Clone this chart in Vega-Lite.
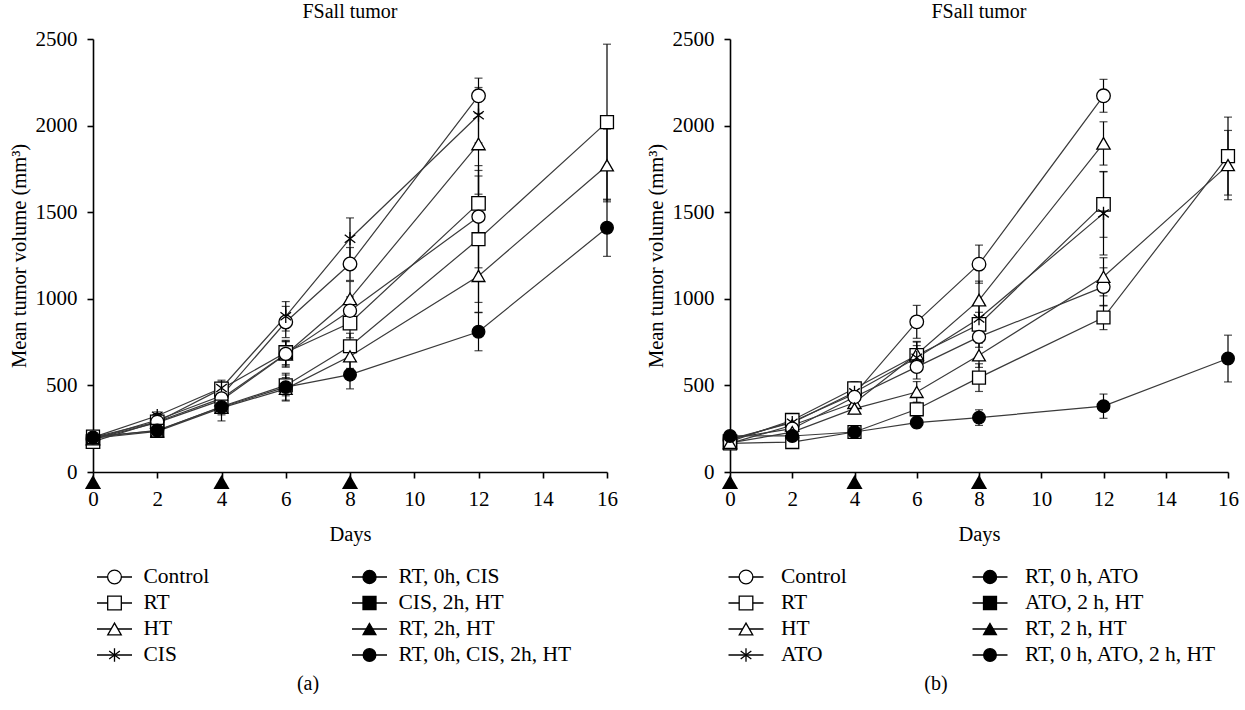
{
  "$schema": "https://vega.github.io/schema/vega-lite/v6.json",
  "padding": {"left": 9, "top": 2, "right": 0, "bottom": 0},
  "config": {
    "font": "Liberation Serif",
    "view": {"stroke": null},
    "axis": {"grid": false, "domainColor": "black", "domainWidth": 1.6, "tickColor": "black", "tickWidth": 1.6, "tickSize": 6, "labelFont": "Liberation Serif", "labelFontSize": 21, "labelColor": "black", "titleFont": "Liberation Serif", "titleFontSize": 20.5, "titleFontWeight": "normal", "titleColor": "black", "labelFlush": false},
    "title": {"font": "Liberation Serif", "fontSize": 20, "fontWeight": "normal", "color": "black"}
  },
  "datasets": {
    "a": [
      {"group": "Control", "day": 0, "vol": 190, "err": 18}, {"group": "Control", "day": 2, "vol": 300, "err": 22}, {"group": "Control", "day": 4, "vol": 440, "err": 45}, {"group": "Control", "day": 6, "vol": 866, "err": 90}, {"group": "Control", "day": 8, "vol": 1201, "err": 95}, {"group": "Control", "day": 12, "vol": 2172, "err": 102},
      {"group": "RT", "day": 0, "vol": 175, "err": 18}, {"group": "RT", "day": 2, "vol": 290, "err": 22}, {"group": "RT", "day": 4, "vol": 480, "err": 40}, {"group": "RT", "day": 6, "vol": 690, "err": 70}, {"group": "RT", "day": 8, "vol": 860, "err": 85}, {"group": "RT", "day": 12, "vol": 1551, "err": 190},
      {"group": "HT", "day": 0, "vol": 190, "err": 18}, {"group": "HT", "day": 2, "vol": 285, "err": 22}, {"group": "HT", "day": 4, "vol": 415, "err": 40}, {"group": "HT", "day": 6, "vol": 680, "err": 75}, {"group": "HT", "day": 8, "vol": 1000, "err": 100}, {"group": "HT", "day": 12, "vol": 1894, "err": 290},
      {"group": "CIS", "day": 0, "vol": 200, "err": 18}, {"group": "CIS", "day": 2, "vol": 325, "err": 22}, {"group": "CIS", "day": 4, "vol": 485, "err": 45}, {"group": "CIS", "day": 6, "vol": 899, "err": 85}, {"group": "CIS", "day": 8, "vol": 1347, "err": 120}, {"group": "CIS", "day": 12, "vol": 2060, "err": 160},
      {"group": "RT, 0h, CIS", "day": 0, "vol": 200, "err": 18}, {"group": "RT, 0h, CIS", "day": 2, "vol": 290, "err": 22}, {"group": "RT, 0h, CIS", "day": 4, "vol": 425, "err": 40}, {"group": "RT, 0h, CIS", "day": 6, "vol": 682, "err": 70}, {"group": "RT, 0h, CIS", "day": 8, "vol": 931, "err": 80}, {"group": "RT, 0h, CIS", "day": 12, "vol": 1474, "err": 295},
      {"group": "CIS, 2h, HT", "day": 0, "vol": 205, "err": 18}, {"group": "CIS, 2h, HT", "day": 2, "vol": 238, "err": 20}, {"group": "CIS, 2h, HT", "day": 4, "vol": 378, "err": 40}, {"group": "CIS, 2h, HT", "day": 6, "vol": 500, "err": 60}, {"group": "CIS, 2h, HT", "day": 8, "vol": 726, "err": 75}, {"group": "CIS, 2h, HT", "day": 12, "vol": 1344, "err": 365}, {"group": "CIS, 2h, HT", "day": 16, "vol": 2020, "err": 450},
      {"group": "RT, 2h, HT", "day": 0, "vol": 195, "err": 18}, {"group": "RT, 2h, HT", "day": 2, "vol": 235, "err": 20}, {"group": "RT, 2h, HT", "day": 4, "vol": 370, "err": 40}, {"group": "RT, 2h, HT", "day": 6, "vol": 480, "err": 65}, {"group": "RT, 2h, HT", "day": 8, "vol": 668, "err": 70}, {"group": "RT, 2h, HT", "day": 12, "vol": 1132, "err": 210}, {"group": "RT, 2h, HT", "day": 16, "vol": 1770, "err": 210},
      {"group": "RT, 0h, CIS, 2h, HT", "day": 0, "vol": 200, "err": 18}, {"group": "RT, 0h, CIS, 2h, HT", "day": 2, "vol": 240, "err": 20}, {"group": "RT, 0h, CIS, 2h, HT", "day": 4, "vol": 375, "err": 80}, {"group": "RT, 0h, CIS, 2h, HT", "day": 6, "vol": 490, "err": 80}, {"group": "RT, 0h, CIS, 2h, HT", "day": 8, "vol": 562, "err": 82}, {"group": "RT, 0h, CIS, 2h, HT", "day": 12, "vol": 810, "err": 110}, {"group": "RT, 0h, CIS, 2h, HT", "day": 16, "vol": 1410, "err": 165}
    ],
    "b": [
      {"group": "Control", "day": 0, "vol": 185, "err": 18}, {"group": "Control", "day": 2, "vol": 290, "err": 22}, {"group": "Control", "day": 4, "vol": 450, "err": 45}, {"group": "Control", "day": 6, "vol": 867, "err": 95}, {"group": "Control", "day": 8, "vol": 1200, "err": 110}, {"group": "Control", "day": 12, "vol": 2172, "err": 95},
      {"group": "RT", "day": 0, "vol": 175, "err": 18}, {"group": "RT", "day": 2, "vol": 299, "err": 22}, {"group": "RT", "day": 4, "vol": 482, "err": 40}, {"group": "RT", "day": 6, "vol": 674, "err": 80}, {"group": "RT", "day": 8, "vol": 852, "err": 70}, {"group": "RT", "day": 12, "vol": 1545, "err": 190},
      {"group": "HT", "day": 0, "vol": 165, "err": 18}, {"group": "HT", "day": 2, "vol": 270, "err": 22}, {"group": "HT", "day": 4, "vol": 400, "err": 40}, {"group": "HT", "day": 6, "vol": 680, "err": 70}, {"group": "HT", "day": 8, "vol": 992, "err": 110}, {"group": "HT", "day": 12, "vol": 1897, "err": 125},
      {"group": "ATO", "day": 0, "vol": 190, "err": 18}, {"group": "ATO", "day": 2, "vol": 285, "err": 22}, {"group": "ATO", "day": 4, "vol": 460, "err": 40}, {"group": "ATO", "day": 6, "vol": 660, "err": 70}, {"group": "ATO", "day": 8, "vol": 886, "err": 80}, {"group": "ATO", "day": 12, "vol": 1493, "err": 240},
      {"group": "RT, 0 h, ATO", "day": 0, "vol": 195, "err": 18}, {"group": "RT, 0 h, ATO", "day": 2, "vol": 250, "err": 22}, {"group": "RT, 0 h, ATO", "day": 4, "vol": 433, "err": 40}, {"group": "RT, 0 h, ATO", "day": 6, "vol": 607, "err": 70}, {"group": "RT, 0 h, ATO", "day": 8, "vol": 780, "err": 60}, {"group": "RT, 0 h, ATO", "day": 12, "vol": 1069, "err": 110},
      {"group": "ATO, 2 h, HT", "day": 0, "vol": 165, "err": 15}, {"group": "ATO, 2 h, HT", "day": 2, "vol": 173, "err": 20}, {"group": "ATO, 2 h, HT", "day": 4, "vol": 231, "err": 20}, {"group": "ATO, 2 h, HT", "day": 6, "vol": 362, "err": 40}, {"group": "ATO, 2 h, HT", "day": 8, "vol": 545, "err": 80}, {"group": "ATO, 2 h, HT", "day": 12, "vol": 892, "err": 70}, {"group": "ATO, 2 h, HT", "day": 16, "vol": 1824, "err": 225},
      {"group": "RT, 2 h, HT", "day": 0, "vol": 168, "err": 15}, {"group": "RT, 2 h, HT", "day": 2, "vol": 230, "err": 20}, {"group": "RT, 2 h, HT", "day": 4, "vol": 366, "err": 30}, {"group": "RT, 2 h, HT", "day": 6, "vol": 462, "err": 60}, {"group": "RT, 2 h, HT", "day": 8, "vol": 674, "err": 70}, {"group": "RT, 2 h, HT", "day": 12, "vol": 1127, "err": 110}, {"group": "RT, 2 h, HT", "day": 16, "vol": 1772, "err": 200},
      {"group": "RT, 0 h, ATO, 2 h, HT", "day": 0, "vol": 208, "err": 20}, {"group": "RT, 0 h, ATO, 2 h, HT", "day": 2, "vol": 208, "err": 20}, {"group": "RT, 0 h, ATO, 2 h, HT", "day": 4, "vol": 231, "err": 15}, {"group": "RT, 0 h, ATO, 2 h, HT", "day": 6, "vol": 285, "err": 30}, {"group": "RT, 0 h, ATO, 2 h, HT", "day": 8, "vol": 314, "err": 45}, {"group": "RT, 0 h, ATO, 2 h, HT", "day": 12, "vol": 380, "err": 70}, {"group": "RT, 0 h, ATO, 2 h, HT", "day": 16, "vol": 655, "err": 135}
    ],
    "dose": [{"day": 0}, {"day": 4}, {"day": 8}],
    "legA": [
      {"label": "Control", "col": 0, "row": 0}, {"label": "RT", "col": 0, "row": 1}, {"label": "HT", "col": 0, "row": 2}, {"label": "CIS", "col": 0, "row": 3},
      {"label": "RT, 0h, CIS", "col": 1, "row": 0}, {"label": "CIS, 2h, HT", "col": 1, "row": 1}, {"label": "RT, 2h, HT", "col": 1, "row": 2}, {"label": "RT, 0h, CIS, 2h, HT", "col": 1, "row": 3}
    ],
    "legB": [
      {"label": "Control", "col": 0, "row": 0}, {"label": "RT", "col": 0, "row": 1}, {"label": "HT", "col": 0, "row": 2}, {"label": "ATO", "col": 0, "row": 3},
      {"label": "RT, 0 h, ATO", "col": 1, "row": 0}, {"label": "ATO, 2 h, HT", "col": 1, "row": 1}, {"label": "RT, 2 h, HT", "col": 1, "row": 2}, {"label": "RT, 0 h, ATO, 2 h, HT", "col": 1, "row": 3}
    ]
  },
  "hconcat": [
    {
      "vconcat": [
        {
          "title": {"text": "FSall tumor", "offset": 6},
          "width": 514, "height": 433,
          "layer": [
            {
              "data": {"name": "a"},
              "mark": {"type": "line", "color": "#3a3a3a", "strokeWidth": 1.2},
              "encoding": {
                "x": {"field": "day", "type": "quantitative", "title": "Days", "scale": {"domain": [0, 16], "nice": false}, "axis": {"values": [0, 2, 4, 6, 8, 10, 12, 14, 16], "labelPadding": 10, "titlePadding": 15}},
                "y": {"field": "vol", "type": "quantitative", "title": "Mean tumor volume (mm³)", "scale": {"domain": [0, 2500], "nice": false}, "axis": {"values": [0, 500, 1000, 1500, 2000, 2500], "format": "d", "labelPadding": 10, "titlePadding": 6}},
                "detail": {"field": "group"},
                "order": {"field": "day"}
              }
            },
            {
              "data": {"name": "a"},
              "mark": {"type": "errorbar", "ticks": {"size": 8, "color": "black", "thickness": 1.2}, "rule": {"color": "black", "strokeWidth": 1.2}},
              "encoding": {
                "x": {"field": "day", "type": "quantitative", "title": "Days"},
                "y": {"field": "vol", "type": "quantitative", "title": "Mean tumor volume (mm³)"},
                "yError": {"field": "err"},
                "detail": {"field": "group"}
              }
            },
            {
              "data": {"name": "a"},
              "mark": {"type": "point", "filled": true, "stroke": "black", "strokeWidth": 1.3, "opacity": 1},
              "encoding": {
                "x": {"field": "day", "type": "quantitative", "title": "Days"},
                "y": {"field": "vol", "type": "quantitative", "title": "Mean tumor volume (mm³)"},
                "shape": {"field": "group", "type": "nominal", "legend": null, "scale": {"domain": ["Control", "RT", "HT", "CIS", "RT, 0h, CIS", "CIS, 2h, HT", "RT, 2h, HT", "RT, 0h, CIS, 2h, HT"], "range": ["circle", "square", "triangle-up", "M0,-1L0,1M-0.8,-0.6L0.8,0.6M-0.8,0.6L0.8,-0.6", "circle", "square", "triangle-up", "circle"]}},
                "fill": {"field": "group", "type": "nominal", "legend": null, "scale": {"domain": ["Control", "RT", "HT", "CIS", "RT, 0h, CIS", "CIS, 2h, HT", "RT, 2h, HT", "RT, 0h, CIS, 2h, HT"], "range": ["white", "white", "white", "white", "white", "white", "white", "black"]}},
                "size": {"field": "group", "type": "nominal", "legend": null, "scale": {"domain": ["Control", "RT", "HT", "CIS", "RT, 0h, CIS", "CIS, 2h, HT", "RT, 2h, HT", "RT, 0h, CIS, 2h, HT"], "range": [185, 160, 190, 120, 185, 160, 190, 200]}}
              }
            },
            {
              "data": {"name": "dose"},
              "mark": {"type": "point", "shape": "triangle-up", "filled": true, "color": "black", "size": 260, "yOffset": 10, "opacity": 1},
              "encoding": {
                "x": {"field": "day", "type": "quantitative", "title": "Days"},
                "y": {"datum": 0, "type": "quantitative", "title": "Mean tumor volume (mm³)"}
              }
            }
          ]
        },
        {
          "title": {"text": "(a)", "orient": "bottom", "offset": 8, "dx": -42},
          "width": 514, "height": 78,
          "data": {"name": "legA"},
          "layer": [
            {
              "mark": {"type": "tick", "orient": "horizontal", "size": 35, "thickness": 1.7, "color": "black", "opacity": 1},
              "encoding": {
                "x": {"field": "col", "type": "quantitative", "axis": null, "scale": {"domain": [0, 1], "range": [21.5, 276.5]}},
                "y": {"field": "row", "type": "ordinal", "axis": null, "scale": {"type": "point", "padding": 0}}
              }
            },
            {
              "mark": {"type": "point", "filled": true, "stroke": "black", "strokeWidth": 1.3, "opacity": 1},
              "encoding": {
                "x": {"field": "col", "type": "quantitative"},
                "y": {"field": "row", "type": "ordinal"},
                "shape": {"field": "label", "type": "nominal", "legend": null, "scale": {"domain": ["Control", "RT", "HT", "CIS", "RT, 0h, CIS", "CIS, 2h, HT", "RT, 2h, HT", "RT, 0h, CIS, 2h, HT"], "range": ["circle", "square", "triangle-up", "M0,-1L0,1M-0.8,-0.6L0.8,0.6M-0.8,0.6L0.8,-0.6", "circle", "square", "triangle-up", "circle"]}},
                "fill": {"field": "label", "type": "nominal", "legend": null, "scale": {"domain": ["Control", "RT", "HT", "CIS", "RT, 0h, CIS", "CIS, 2h, HT", "RT, 2h, HT", "RT, 0h, CIS, 2h, HT"], "range": ["white", "white", "white", "white", "black", "black", "black", "black"]}},
                "size": {"field": "label", "type": "nominal", "legend": null, "scale": {"domain": ["Control", "RT", "HT", "CIS", "RT, 0h, CIS", "CIS, 2h, HT", "RT, 2h, HT", "RT, 0h, CIS, 2h, HT"], "range": [190, 160, 230, 140, 280, 210, 280, 280]}}
              }
            },
            {
              "mark": {"type": "text", "align": "left", "baseline": "middle", "dx": 29, "fontSize": 21.5, "font": "Liberation Serif", "color": "black"},
              "encoding": {
                "x": {"field": "col", "type": "quantitative"},
                "y": {"field": "row", "type": "ordinal"},
                "text": {"field": "label"}
              }
            }
          ],
          "resolve": {"scale": {"shape": "independent", "fill": "independent", "size": "independent"}}
        }
      ],
      "spacing": 21,
      "resolve": {"scale": {"shape": "independent", "fill": "independent", "size": "independent", "x": "independent", "y": "independent"}}
    },
    {
      "vconcat": [
        {
          "title": {"text": "FSall tumor", "offset": 6},
          "width": 498, "height": 433,
          "layer": [
            {
              "data": {"name": "b"},
              "mark": {"type": "line", "color": "#3a3a3a", "strokeWidth": 1.2},
              "encoding": {
                "x": {"field": "day", "type": "quantitative", "title": "Days", "scale": {"domain": [0, 16], "nice": false}, "axis": {"values": [0, 2, 4, 6, 8, 10, 12, 14, 16], "labelPadding": 10, "titlePadding": 15}},
                "y": {"field": "vol", "type": "quantitative", "title": "Mean tumor volume (mm³)", "scale": {"domain": [0, 2500], "nice": false}, "axis": {"values": [0, 500, 1000, 1500, 2000, 2500], "format": "d", "labelPadding": 10, "titlePadding": 6}},
                "detail": {"field": "group"},
                "order": {"field": "day"}
              }
            },
            {
              "data": {"name": "b"},
              "mark": {"type": "errorbar", "ticks": {"size": 8, "color": "black", "thickness": 1.2}, "rule": {"color": "black", "strokeWidth": 1.2}},
              "encoding": {
                "x": {"field": "day", "type": "quantitative", "title": "Days"},
                "y": {"field": "vol", "type": "quantitative", "title": "Mean tumor volume (mm³)"},
                "yError": {"field": "err"},
                "detail": {"field": "group"}
              }
            },
            {
              "data": {"name": "b"},
              "mark": {"type": "point", "filled": true, "stroke": "black", "strokeWidth": 1.3, "opacity": 1},
              "encoding": {
                "x": {"field": "day", "type": "quantitative", "title": "Days"},
                "y": {"field": "vol", "type": "quantitative", "title": "Mean tumor volume (mm³)"},
                "shape": {"field": "group", "type": "nominal", "legend": null, "scale": {"domain": ["Control", "RT", "HT", "ATO", "RT, 0 h, ATO", "ATO, 2 h, HT", "RT, 2 h, HT", "RT, 0 h, ATO, 2 h, HT"], "range": ["circle", "square", "triangle-up", "M0,-1L0,1M-0.8,-0.6L0.8,0.6M-0.8,0.6L0.8,-0.6", "circle", "square", "triangle-up", "circle"]}},
                "fill": {"field": "group", "type": "nominal", "legend": null, "scale": {"domain": ["Control", "RT", "HT", "ATO", "RT, 0 h, ATO", "ATO, 2 h, HT", "RT, 2 h, HT", "RT, 0 h, ATO, 2 h, HT"], "range": ["white", "white", "white", "white", "white", "white", "white", "black"]}},
                "size": {"field": "group", "type": "nominal", "legend": null, "scale": {"domain": ["Control", "RT", "HT", "ATO", "RT, 0 h, ATO", "ATO, 2 h, HT", "RT, 2 h, HT", "RT, 0 h, ATO, 2 h, HT"], "range": [185, 160, 190, 120, 185, 160, 190, 200]}}
              }
            },
            {
              "data": {"name": "dose"},
              "mark": {"type": "point", "shape": "triangle-up", "filled": true, "color": "black", "size": 260, "yOffset": 10, "opacity": 1},
              "encoding": {
                "x": {"field": "day", "type": "quantitative", "title": "Days"},
                "y": {"datum": 0, "type": "quantitative", "title": "Mean tumor volume (mm³)"}
              }
            }
          ]
        },
        {
          "title": {"text": "(b)", "orient": "bottom", "offset": 8, "dx": -43},
          "width": 498, "height": 78,
          "data": {"name": "legB"},
          "layer": [
            {
              "mark": {"type": "tick", "orient": "horizontal", "size": 35, "thickness": 1.7, "color": "black", "opacity": 1},
              "encoding": {
                "x": {"field": "col", "type": "quantitative", "axis": null, "scale": {"domain": [0, 1], "range": [16, 260]}},
                "y": {"field": "row", "type": "ordinal", "axis": null, "scale": {"type": "point", "padding": 0}}
              }
            },
            {
              "mark": {"type": "point", "filled": true, "stroke": "black", "strokeWidth": 1.3, "opacity": 1},
              "encoding": {
                "x": {"field": "col", "type": "quantitative"},
                "y": {"field": "row", "type": "ordinal"},
                "shape": {"field": "label", "type": "nominal", "legend": null, "scale": {"domain": ["Control", "RT", "HT", "ATO", "RT, 0 h, ATO", "ATO, 2 h, HT", "RT, 2 h, HT", "RT, 0 h, ATO, 2 h, HT"], "range": ["circle", "square", "triangle-up", "M0,-1L0,1M-0.8,-0.6L0.8,0.6M-0.8,0.6L0.8,-0.6", "circle", "square", "triangle-up", "circle"]}},
                "fill": {"field": "label", "type": "nominal", "legend": null, "scale": {"domain": ["Control", "RT", "HT", "ATO", "RT, 0 h, ATO", "ATO, 2 h, HT", "RT, 2 h, HT", "RT, 0 h, ATO, 2 h, HT"], "range": ["white", "white", "white", "white", "black", "black", "black", "black"]}},
                "size": {"field": "label", "type": "nominal", "legend": null, "scale": {"domain": ["Control", "RT", "HT", "ATO", "RT, 0 h, ATO", "ATO, 2 h, HT", "RT, 2 h, HT", "RT, 0 h, ATO, 2 h, HT"], "range": [190, 160, 230, 140, 280, 210, 280, 280]}}
              }
            },
            {
              "mark": {"type": "text", "align": "left", "baseline": "middle", "dx": 35, "fontSize": 21.5, "font": "Liberation Serif", "color": "black"},
              "encoding": {
                "x": {"field": "col", "type": "quantitative"},
                "y": {"field": "row", "type": "ordinal"},
                "text": {"field": "label"}
              }
            }
          ],
          "resolve": {"scale": {"shape": "independent", "fill": "independent", "size": "independent"}}
        }
      ],
      "spacing": 21,
      "resolve": {"scale": {"shape": "independent", "fill": "independent", "size": "independent", "x": "independent", "y": "independent"}}
    }
  ],
  "spacing": 28,
  "resolve": {"scale": {"shape": "independent", "fill": "independent", "size": "independent", "x": "independent", "y": "independent"}}
}
